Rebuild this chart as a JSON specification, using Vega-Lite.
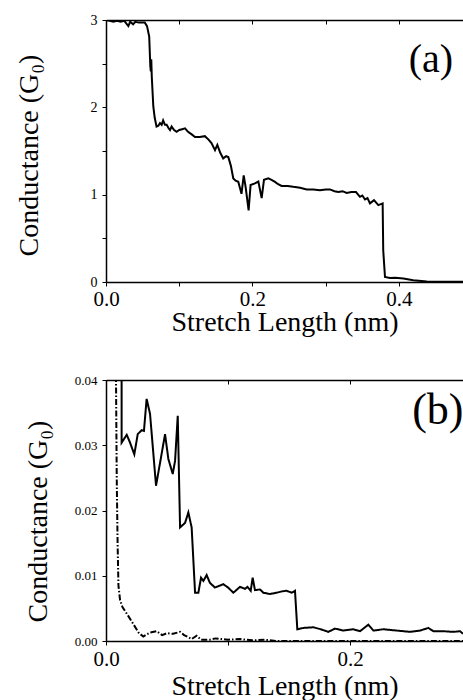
{
  "$schema": "https://vega.github.io/schema/vega-lite/v6.json",
  "background": "white",
  "padding": {"left": 15, "top": 13, "right": 0, "bottom": 0},
  "spacing": 38,
  "config": {
    "font": "Liberation Serif",
    "view": {"stroke": null},
    "text": {"font": "Liberation Serif"},
    "style": {"guide-label": {"font": "Liberation Serif"}, "guide-title": {"font": "Liberation Serif"}},
    "axis": {
      "grid": false,
      "labelColor": "black",
      "titleColor": "black",
      "domainColor": "black",
      "tickColor": "black",
      "labelFont": "Liberation Serif",
      "titleFont": "Liberation Serif",
      "titleFontWeight": "normal",
      "labelFlush": false,
      "labelOverlap": false,
      "domainWidth": 1.5,
      "tickWidth": 1
    }
  },
  "datasets": {
    "a": [
      {"x": 0, "g": 3.0}, {"x": 0.005, "g": 2.99}, {"x": 0.01, "g": 2.98}, {"x": 0.015, "g": 2.99},
      {"x": 0.02, "g": 2.98}, {"x": 0.025, "g": 2.99}, {"x": 0.0305, "g": 2.93}, {"x": 0.033, "g": 2.98},
      {"x": 0.037, "g": 2.95}, {"x": 0.04, "g": 2.98}, {"x": 0.045, "g": 2.97}, {"x": 0.05, "g": 2.97},
      {"x": 0.053, "g": 2.97}, {"x": 0.056, "g": 2.93}, {"x": 0.059, "g": 2.81}, {"x": 0.0605, "g": 2.47},
      {"x": 0.0612, "g": 2.41}, {"x": 0.0618, "g": 2.55}, {"x": 0.0625, "g": 2.35}, {"x": 0.0646, "g": 2.01},
      {"x": 0.0665, "g": 1.88}, {"x": 0.069, "g": 1.78}, {"x": 0.0715, "g": 1.79}, {"x": 0.0737, "g": 1.82},
      {"x": 0.076, "g": 1.8}, {"x": 0.078, "g": 1.85}, {"x": 0.0805, "g": 1.8}, {"x": 0.0828, "g": 1.8},
      {"x": 0.0855, "g": 1.76}, {"x": 0.0874, "g": 1.74}, {"x": 0.0896, "g": 1.78}, {"x": 0.093, "g": 1.74},
      {"x": 0.0964, "g": 1.72}, {"x": 0.1, "g": 1.74}, {"x": 0.104, "g": 1.75}, {"x": 0.1079, "g": 1.76},
      {"x": 0.112, "g": 1.72}, {"x": 0.117, "g": 1.69}, {"x": 0.1215, "g": 1.66}, {"x": 0.128, "g": 1.66},
      {"x": 0.135, "g": 1.67}, {"x": 0.14, "g": 1.63}, {"x": 0.144, "g": 1.59}, {"x": 0.1488, "g": 1.51},
      {"x": 0.152, "g": 1.57}, {"x": 0.156, "g": 1.48}, {"x": 0.16, "g": 1.415}, {"x": 0.164, "g": 1.44},
      {"x": 0.167, "g": 1.43}, {"x": 0.1705, "g": 1.33}, {"x": 0.1738, "g": 1.186}, {"x": 0.177, "g": 1.16},
      {"x": 0.1806, "g": 1.147}, {"x": 0.185, "g": 1.01}, {"x": 0.188, "g": 1.22}, {"x": 0.1906, "g": 1.09},
      {"x": 0.1947, "g": 0.82}, {"x": 0.1974, "g": 1.11}, {"x": 0.2033, "g": 1.13}, {"x": 0.208, "g": 1.15},
      {"x": 0.2125, "g": 0.96}, {"x": 0.2157, "g": 1.17}, {"x": 0.2216, "g": 1.186}, {"x": 0.226, "g": 1.17},
      {"x": 0.2307, "g": 1.147}, {"x": 0.235, "g": 1.12}, {"x": 0.2398, "g": 1.1}, {"x": 0.248, "g": 1.1},
      {"x": 0.2557, "g": 1.09}, {"x": 0.265, "g": 1.08}, {"x": 0.274, "g": 1.06}, {"x": 0.283, "g": 1.06},
      {"x": 0.2922, "g": 1.05}, {"x": 0.3, "g": 1.06}, {"x": 0.3058, "g": 1.06}, {"x": 0.312, "g": 1.04},
      {"x": 0.3172, "g": 1.03}, {"x": 0.323, "g": 1.04}, {"x": 0.3285, "g": 1.02}, {"x": 0.335, "g": 1.03},
      {"x": 0.3413, "g": 1.03}, {"x": 0.3467, "g": 0.975}, {"x": 0.35, "g": 0.99}, {"x": 0.3536, "g": 0.945},
      {"x": 0.357, "g": 0.96}, {"x": 0.3604, "g": 0.9}, {"x": 0.3659, "g": 0.937}, {"x": 0.3718, "g": 0.88},
      {"x": 0.3777, "g": 0.9}, {"x": 0.3785, "g": 0.36}, {"x": 0.3809, "g": 0.057}, {"x": 0.3877, "g": 0.046},
      {"x": 0.395, "g": 0.05}, {"x": 0.406, "g": 0.04}, {"x": 0.4195, "g": 0.02}, {"x": 0.438, "g": 0.005},
      {"x": 0.46, "g": 0.003}, {"x": 0.4874, "g": 0.002}
    ],
    "b": [
      {"s": "solid", "x": 0.0128, "g": 0.08}, {"s": "solid", "x": 0.0128, "g": 0.0304}, {"s": "solid", "x": 0.017, "g": 0.0316},
      {"s": "solid", "x": 0.0195, "g": 0.0305}, {"s": "solid", "x": 0.0232, "g": 0.0286}, {"s": "solid", "x": 0.026, "g": 0.0317},
      {"s": "solid", "x": 0.0292, "g": 0.0323}, {"s": "solid", "x": 0.0311, "g": 0.0322}, {"s": "solid", "x": 0.0333, "g": 0.0371},
      {"s": "solid", "x": 0.0361, "g": 0.0348}, {"s": "solid", "x": 0.041, "g": 0.0238}, {"s": "solid", "x": 0.0443, "g": 0.0273},
      {"s": "solid", "x": 0.0484, "g": 0.0317}, {"s": "solid", "x": 0.0511, "g": 0.0279}, {"s": "solid", "x": 0.0547, "g": 0.0256},
      {"s": "solid", "x": 0.0566, "g": 0.0276}, {"s": "solid", "x": 0.0588, "g": 0.0345}, {"s": "solid", "x": 0.0607, "g": 0.0174},
      {"s": "solid", "x": 0.0648, "g": 0.0181}, {"s": "solid", "x": 0.0675, "g": 0.0197}, {"s": "solid", "x": 0.0702, "g": 0.0174},
      {"s": "solid", "x": 0.073, "g": 0.0074}, {"s": "solid", "x": 0.0757, "g": 0.0074}, {"s": "solid", "x": 0.0779, "g": 0.0097},
      {"s": "solid", "x": 0.0798, "g": 0.0092}, {"s": "solid", "x": 0.0825, "g": 0.0101}, {"s": "solid", "x": 0.0852, "g": 0.0089},
      {"s": "solid", "x": 0.0893, "g": 0.0082}, {"s": "solid", "x": 0.0962, "g": 0.0087}, {"s": "solid", "x": 0.1, "g": 0.0082},
      {"s": "solid", "x": 0.1044, "g": 0.0074}, {"s": "solid", "x": 0.1098, "g": 0.0083}, {"s": "solid", "x": 0.1139, "g": 0.008},
      {"s": "solid", "x": 0.116, "g": 0.0083}, {"s": "solid", "x": 0.1186, "g": 0.0077}, {"s": "solid", "x": 0.1202, "g": 0.0097},
      {"s": "solid", "x": 0.1221, "g": 0.0078}, {"s": "solid", "x": 0.1262, "g": 0.0079}, {"s": "solid", "x": 0.129, "g": 0.0074},
      {"s": "solid", "x": 0.1344, "g": 0.0072}, {"s": "solid", "x": 0.1399, "g": 0.0074}, {"s": "solid", "x": 0.144, "g": 0.0076},
      {"s": "solid", "x": 0.148, "g": 0.0077}, {"s": "solid", "x": 0.1522, "g": 0.0074}, {"s": "solid", "x": 0.1549, "g": 0.0077},
      {"s": "solid", "x": 0.1568, "g": 0.0018}, {"s": "solid", "x": 0.1617, "g": 0.002}, {"s": "solid", "x": 0.17, "g": 0.0021},
      {"s": "solid", "x": 0.176, "g": 0.0018}, {"s": "solid", "x": 0.1822, "g": 0.0014}, {"s": "solid", "x": 0.1877, "g": 0.0019},
      {"s": "solid", "x": 0.1945, "g": 0.0016}, {"s": "solid", "x": 0.2027, "g": 0.0018}, {"s": "solid", "x": 0.2082, "g": 0.0015},
      {"s": "solid", "x": 0.215, "g": 0.0025}, {"s": "solid", "x": 0.2191, "g": 0.0016}, {"s": "solid", "x": 0.2273, "g": 0.0018},
      {"s": "solid", "x": 0.2383, "g": 0.0016}, {"s": "solid", "x": 0.2492, "g": 0.0014}, {"s": "solid", "x": 0.2574, "g": 0.0016},
      {"s": "solid", "x": 0.2642, "g": 0.002}, {"s": "solid", "x": 0.2683, "g": 0.0015}, {"s": "solid", "x": 0.2765, "g": 0.0015},
      {"s": "solid", "x": 0.2847, "g": 0.0014}, {"s": "solid", "x": 0.2902, "g": 0.0015}, {"s": "solid", "x": 0.2926, "g": 0.0011},
      {"s": "dashdot", "x": 0.0078, "g": 0.06}, {"s": "dashdot", "x": 0.0082, "g": 0.04}, {"s": "dashdot", "x": 0.0088, "g": 0.025},
      {"s": "dashdot", "x": 0.0095, "g": 0.015}, {"s": "dashdot", "x": 0.0102, "g": 0.0085}, {"s": "dashdot", "x": 0.0115, "g": 0.0063},
      {"s": "dashdot", "x": 0.0135, "g": 0.0052}, {"s": "dashdot", "x": 0.017, "g": 0.0042}, {"s": "dashdot", "x": 0.0224, "g": 0.0026},
      {"s": "dashdot", "x": 0.027, "g": 0.0012}, {"s": "dashdot", "x": 0.0306, "g": 0.0007}, {"s": "dashdot", "x": 0.036, "g": 0.0013},
      {"s": "dashdot", "x": 0.0415, "g": 0.0015}, {"s": "dashdot", "x": 0.046, "g": 0.0009}, {"s": "dashdot", "x": 0.05, "g": 0.0012},
      {"s": "dashdot", "x": 0.055, "g": 0.0011}, {"s": "dashdot", "x": 0.0607, "g": 0.0014}, {"s": "dashdot", "x": 0.064, "g": 0.0009},
      {"s": "dashdot", "x": 0.0675, "g": 0.0006}, {"s": "dashdot", "x": 0.0702, "g": 0.0003}, {"s": "dashdot", "x": 0.0743, "g": 0.0008},
      {"s": "dashdot", "x": 0.078, "g": 0.0002}, {"s": "dashdot", "x": 0.085, "g": 0.0002}, {"s": "dashdot", "x": 0.09, "g": 0.0004},
      {"s": "dashdot", "x": 0.1, "g": 0.0002}, {"s": "dashdot", "x": 0.11, "g": 0.0003}, {"s": "dashdot", "x": 0.12, "g": 0.0001},
      {"s": "dashdot", "x": 0.13, "g": 0.0002}, {"s": "dashdot", "x": 0.14, "g": 0.0}, {"s": "dashdot", "x": 0.2926, "g": 0.0}
    ]
  },
  "vconcat": [
    {
      "width": 357,
      "height": 262,
      "resolve": {"axis": {"x": "independent"}},
      "layer": [
        {
          "data": {"name": "a"},
          "mark": {"type": "line", "color": "black", "strokeWidth": 2, "clip": true},
          "encoding": {
            "x": {
              "field": "x", "type": "quantitative",
              "scale": {"domain": [0, 0.4874], "nice": false, "zero": false},
              "axis": {
                "orient": "bottom",
                "values": [0, 0.1, 0.2, 0.3, 0.4],
                "labelExpr": "round(datum.value * 10) % 2 == 0 ? format(datum.value, '.1f') : ''",
                "labelFont": "Liberation Serif",
                "titleFont": "Liberation Serif",
                "labelFontSize": 21,
                "labelPadding": 2,
                "tickSize": 4,
                "title": "Stretch Length (nm)",
                "titleFontSize": 28,
                "titleBaseline": "alphabetic",
                "titleY": 48
              }
            },
            "y": {
              "field": "g", "type": "quantitative",
              "scale": {"domain": [0, 3], "nice": false, "zero": false},
              "axis": {
                "values": [0, 0.5, 1, 1.5, 2, 2.5, 3],
                "labelExpr": "datum.value % 1 == 0 ? format(datum.value, 'd') : ''",
                "labelFont": "Liberation Serif",
                "titleFont": "Liberation Serif",
                "labelFontSize": 14,
                "labelPadding": 5,
                "tickSize": 4,
                "title": "Conductance (G₀)",
                "titleFontSize": 28,
                "titleAngle": 270,
                "titleBaseline": "middle",
                "titleX": -77,
                "titleY": 135
              }
            }
          }
        },
        {
          "data": {"values": [{"label": "(a)"}]},
          "mark": {"type": "text", "fontSize": 40, "font": "Liberation Serif", "align": "center", "baseline": "middle", "color": "black"},
          "encoding": {
            "x": {
              "datum": 0.4437, "type": "quantitative",
              "scale": {"domain": [0, 0.4874], "nice": false, "zero": false},
              "axis": {"orient": "top", "values": [0, 0.1, 0.2, 0.3, 0.4], "labels": false, "title": null, "tickSize": -4}
            },
            "y": {"datum": 2.54, "type": "quantitative"},
            "text": {"field": "label"}
          }
        }
      ]
    },
    {
      "width": 357,
      "height": 261,
      "resolve": {"axis": {"x": "independent"}},
      "layer": [
        {
          "data": {"name": "b"},
          "mark": {"type": "line", "color": "black", "strokeWidth": 2, "clip": true},
          "encoding": {
            "x": {
              "field": "x", "type": "quantitative",
              "scale": {"domain": [0, 0.2926], "nice": false, "zero": false},
              "axis": {
                "orient": "bottom",
                "values": [0, 0.1, 0.2],
                "labelExpr": "round(datum.value * 10) % 2 == 0 ? format(datum.value, '.1f') : ''",
                "labelFont": "Liberation Serif",
                "titleFont": "Liberation Serif",
                "labelFontSize": 21,
                "labelPadding": 3,
                "tickSize": 4,
                "title": "Stretch Length (nm)",
                "titleFontSize": 28,
                "titleBaseline": "alphabetic",
                "titleY": 53
              }
            },
            "y": {
              "field": "g", "type": "quantitative",
              "scale": {"domain": [0, 0.04], "nice": false, "zero": false},
              "axis": {
                "values": [0, 0.005, 0.01, 0.015, 0.02, 0.025, 0.03, 0.035, 0.04],
                "labelExpr": "round(datum.value * 1000) % 10 == 0 ? format(datum.value, '.2f') : ''",
                "labelFont": "Liberation Serif",
                "titleFont": "Liberation Serif",
                "labelFontSize": 13,
                "labelPadding": 5,
                "tickSize": 4,
                "title": "Conductance (G₀)",
                "titleFontSize": 28,
                "titleAngle": 270,
                "titleBaseline": "middle",
                "titleX": -68,
                "titleY": 141
              }
            },
            "strokeDash": {
              "field": "s", "type": "nominal",
              "scale": {"domain": ["solid", "dashdot"], "range": [[1, 0], [6, 2, 1.5, 2]]},
              "legend": null
            },
            "strokeWidth": {
              "field": "s", "type": "nominal",
              "scale": {"domain": ["solid", "dashdot"], "range": [2, 1.6]},
              "legend": null
            }
          }
        },
        {
          "data": {"values": [{"label": "(b)"}]},
          "mark": {"type": "text", "fontSize": 44, "font": "Liberation Serif", "align": "center", "baseline": "middle", "color": "black"},
          "encoding": {
            "x": {
              "datum": 0.272, "type": "quantitative",
              "scale": {"domain": [0, 0.2926], "nice": false, "zero": false},
              "axis": {"orient": "top", "values": [0, 0.1, 0.2], "labels": false, "title": null, "tickSize": -4}
            },
            "y": {"datum": 0.0352, "type": "quantitative"},
            "text": {"field": "label"}
          }
        }
      ]
    }
  ]
}
